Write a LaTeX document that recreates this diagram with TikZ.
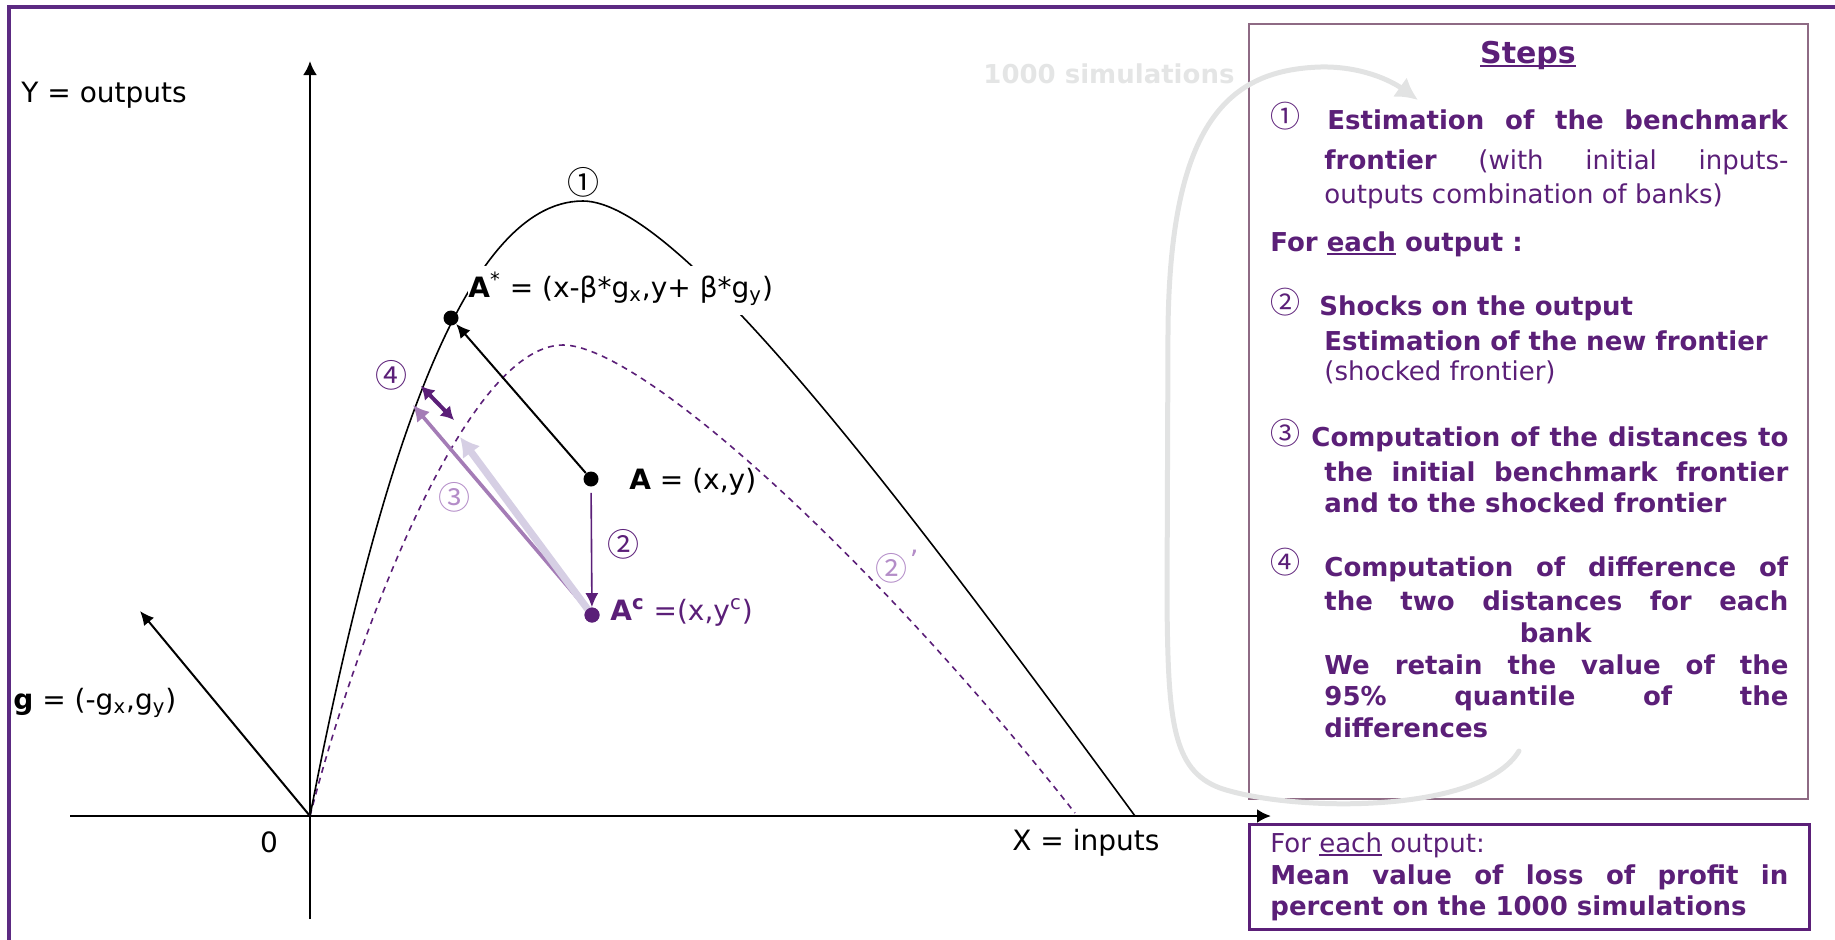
\documentclass[tikz,border=0pt]{standalone}
\usepackage{fontspec}
\setmainfont{DejaVu Sans}
\newfontfamily\circfont{Noto Sans CJK JP}
\usetikzlibrary{arrows.meta}
\definecolor{stepc}{HTML}{5B1F78}
\definecolor{framec}{HTML}{5C2A82}
\definecolor{boxc}{HTML}{8E6A84}
\definecolor{lightp}{HTML}{B48DC8}
\definecolor{midp}{HTML}{A47CB6}
\definecolor{lavc}{HTML}{D6CFE4}
\definecolor{loopc}{HTML}{E2E3E3}
\definecolor{simc}{HTML}{E4E5E5}
\newsavebox\myulbox
\newcommand\myul[1]{\sbox\myulbox{#1}\rlap{\rule[-0.14em]{\wd\myulbox}{0.07em}}\usebox\myulbox}
\begin{document}
\begin{tikzpicture}[x=0.5pt,y=-0.5pt,
  lbl/.style={font=\fontsize{14}{17}\selectfont, inner sep=0pt},
  numlbl/.style={font=\circfont\fontsize{16}{18}\selectfont, inner sep=0pt},
  boxnum/.style={font=\circfont\fontsize{15}{17}\selectfont, text=stepc, inner sep=0pt},
  stx/.style={font=\fontsize{13}{16}\selectfont, text=stepc, inner sep=0pt, anchor=base west},
  dotn/.style={circle, fill, inner sep=0pt, minimum size=7.5pt},
  axisarrow/.style={line width=1.3pt, -{Latex[length=7pt,width=7pt]}},
  blackarrow/.style={line width=1pt, -{Latex[length=7pt,width=6.5pt]}},
  frontline/.style={line width=0.8pt},
  shockline/.style={stepc, line width=0.8pt, dash pattern=on 3pt off 2.6pt},
  looparrow/.style={loopc, line width=2.5pt, line cap=round, -{Latex[length=11pt,width=12pt]}},
  boxframe/.style={draw=boxc, line width=0.8pt, inner sep=0pt, anchor=north west},
  resframe/.style={draw=stepc, line width=1.6pt, inner sep=0pt, anchor=north west}
]
\useasboundingbox (0,0) rectangle (1835,939);
% outer frame
\draw[framec, line width=1.6pt] (9,960) -- (9,7) -- (1850,7);

% axes
\coordinate (O) at (310,816);
\coordinate (ybot) at (310,919);
\coordinate (ytop) at (310,61);
\coordinate (xleft) at (70,816);
\coordinate (xright) at (1271,816);
\draw[axisarrow] (ybot) -- (ytop);
\draw[axisarrow] (xleft) -- (xright);
\coordinate (gtip) at (140,611);
\draw[blackarrow] (O) -- (gtip);

% shocked frontier (dashed)
\coordinate (Xs) at (1075,813);
\draw[shockline] (O) .. controls (355,640) and (465,345) .. (563,345)
                     .. controls (640,345) and (872,555) .. (Xs);

% benchmark frontier
\coordinate (Xb) at (1135,816);
\draw[frontline] (O) .. controls (375,480) and (460,201) .. (583,201)
                     .. controls (680,201) and (910,510) .. (Xb);

% labels of the graph
\node[lbl, anchor=base west] (ylbl) at (21,102) {Y = outputs};
\node[lbl, anchor=base] (zero) at (269,852) {0};
\node[lbl, anchor=base west] (xlbl) at (1012,850) {X = inputs};
\node[lbl, anchor=base west] (glbl) at (13,709) {\textbf{g} = (-g\textsubscript{x},g\textsubscript{y})};
\node[lbl, anchor=base west, fill=white, text height=15.5pt, text depth=9pt] (astarlbl) at (468,297) {\textbf{A}\textsuperscript{*} = (x-β*g\textsubscript{x},y+ β*g\textsubscript{y})};
\node[lbl, anchor=base west] (albl) at (629,489) {\textbf{A} = (x,y)};
\node[lbl, anchor=base west, text=stepc] (aclbl) at (610,620) {\textbf{A\textsuperscript{c}} =(x,y\textsuperscript{c})};
\node[numlbl] (n1) at (583,182) {①};
\node[numlbl, text=stepc] (n2) at (623,544) {②};
\node[numlbl, text=lightp] (n3) at (454,497) {③};
\node[numlbl, text=stepc] (n4) at (391,375) {④};
\node[numlbl, text=lightp] (n2p) at (891,568) {②};
\node[lbl, text=lightp] (n2pq) at (914,560) {’};

% points
\node[dotn] (Astar) at (451,318) {};
\node[dotn] (A) at (591,479) {};
\node[dotn, fill=stepc] (Ac) at (592,615) {};
\coordinate (P1) at (413,405);
\coordinate (P2) at (460,437);
\coordinate (D1) at (421,386);
\coordinate (D2) at (454,420);

\draw[blackarrow] (A) -- (Astar);
\draw[stepc, line width=0.8pt, shorten <=3pt, -{Latex[length=7pt,width=6.5pt]}] (A) -- (Ac);
\draw[midp, line width=1.8pt, -{Latex[length=8pt,width=8.5pt]}] (Ac.center) -- (P1);
\draw[lavc, line width=3.6pt, -{Latex[length=9.5pt,width=11pt]}] (Ac.center) -- (P2);
\node[dotn, fill=stepc] at (Ac) {};
\draw[stepc, line width=2pt, {Latex[length=6.5pt,width=7.5pt]}-{Latex[length=6.5pt,width=7.5pt]}] (D1) -- (D2);

% steps box
\node[boxframe, minimum width=279.5pt, minimum height=387.5pt] (stepsbox) at (1248,23) {};
\node[resframe, minimum width=280pt, minimum height=52.5pt] (resbox) at (1248,823) {};

\node[stx, anchor=base, font=\fontsize{15}{18}\selectfont\bfseries] (title) at (1528,63) {\myul{Steps}};
\node[boxnum] (s1n) at (1285,116) {①};
\node[stx] (s1a) at (1327,129) {\makebox[230.5pt][s]{\textbf{Estimation of the benchmark}}};
\node[stx] (s1b) at (1324,169) {\makebox[232pt][s]{\textbf{frontier} (with initial inputs-}};
\node[stx] (s1c) at (1324,203) {outputs combination of banks)};
\node[stx] (each) at (1270,251) {\textbf{For \myul{each} output :}};
\node[boxnum] (s2n) at (1285,302) {②};
\node[stx] (s2a) at (1319,315) {\textbf{Shocks on the output}};
\node[stx] (s2b) at (1324,350) {\textbf{Estimation of the new frontier}};
\node[stx] (s2c) at (1324,380) {(shocked frontier)};
\node[boxnum] (s3n) at (1285,433) {③};
\node[stx] (s3a) at (1311,446) {\makebox[238.5pt][s]{\textbf{Computation of the distances to}}};
\node[stx] (s3b) at (1324,481) {\makebox[232pt][s]{\textbf{the initial benchmark frontier}}};
\node[stx] (s3c) at (1324,512) {\textbf{and to the shocked frontier}};
\node[boxnum] (s4n) at (1285,562) {④};
\node[stx] (s4a) at (1324,576) {\makebox[232pt][s]{\textbf{Computation of difference of}}};
\node[stx] (s4b) at (1324,610) {\makebox[232pt][s]{\textbf{the two distances for each}}};
\node[stx, anchor=base] (s4c) at (1556,642) {\textbf{bank}};
\node[stx] (s4d) at (1324,674) {\makebox[232pt][s]{\textbf{We retain the value of the}}};
\node[stx] (s4e) at (1324,705) {\makebox[232pt][s]{\textbf{95\% quantile of the}}};
\node[stx] (s4f) at (1324,737) {\textbf{differences}};

\node[stx] (r1) at (1270,852) {For \myul{each} output:};
\node[stx] (r2) at (1270,884) {\makebox[259pt][s]{\textbf{Mean value of loss of profit in}}};
\node[stx] (r3) at (1270,915) {\textbf{percent on the 1000 simulations}};

% simulation loop
\node[stx, text=simc, font=\fontsize{13}{16}\selectfont\bfseries] (simlbl) at (983,83) {1000 simulations};
\coordinate (loopstart) at (1519,751);
\coordinate (looptip) at (1418,100);
\draw[looparrow] (loopstart) .. controls (1480,815) and (1290,812) .. (1220,788)
   .. controls (1172,770) and (1168,720) .. (1167,600)
   -- (1168,330)
   .. controls (1170,120) and (1230,70) .. (1320,67)
   .. controls (1360,66) and (1390,80) .. (looptip);
\end{tikzpicture}
\end{document}
